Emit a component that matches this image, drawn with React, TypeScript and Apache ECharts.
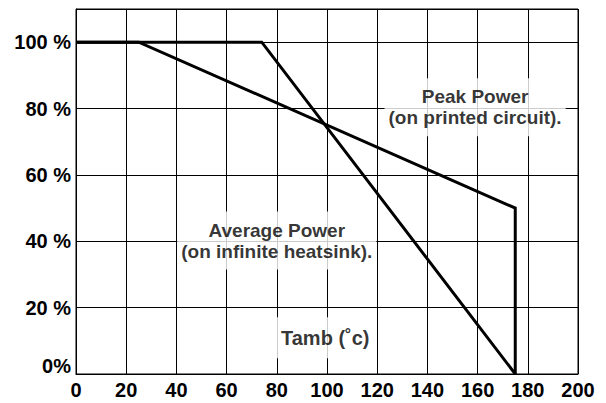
import React, { useEffect, useRef } from "react";
import * as echarts from "echarts";

// Tamb (°C) vs power derating (%)
const xTicks = [0, 20, 40, 60, 80, 100, 120, 140, 160, 180, 200];
const yTicks = [0, 20, 40, 60, 80, 100];
const peakPowerLine: [number, number][] = [
  [0, 100],
  [25, 100],
  [175, 50],
  [175, 0],
];
const averagePowerLine: [number, number][] = [
  [0, 100],
  [74, 100],
  [175, 0],
];
const notes: [number, number, string][] = [
  [159, 80.4, "Peak Power\n(on printed circuit)."],
  [80, 40.2, "Average Power\n(on infinite heatsink)."],
];
const axisTitle: [number, number, string] = [99.3, 10.9, "Tamb (˚c)"];

const FONT = "'Liberation Sans', Arial, Helvetica, sans-serif";

export default function App() {
  const ref = useRef<HTMLDivElement>(null);
  useEffect(() => {
    document.body.style.margin = "0";
    if (!ref.current) return;
    const chart = echarts.init(ref.current, undefined, { renderer: "svg" });
    chart.setOption({
      animation: false,
      backgroundColor: "#fff",
      grid: {
        left: 76,
        right: 28,
        top: 9,
        bottom: 29,
        show: true,
        borderColor: "#000",
        borderWidth: 1,
      },
      xAxis: {
        type: "value",
        min: xTicks[0],
        max: xTicks[xTicks.length - 1],
        interval: 20,
        axisLine: { show: true, lineStyle: { color: "#000", width: 1 } },
        axisTick: { show: false },
        splitLine: { show: true, lineStyle: { color: "#000", width: 1 } },
        axisLabel: {
          color: "#000",
          fontFamily: FONT,
          fontWeight: "bold",
          fontSize: 20,
          margin: 6,
        },
      },
      yAxis: {
        type: "value",
        min: 0,
        max: 110,
        interval: 20,
        axisLine: { show: true, lineStyle: { color: "#000", width: 1 } },
        axisTick: { show: false },
        splitLine: { show: true, lineStyle: { color: "#000", width: 1 } },
        axisLabel: {
          color: "#000",
          fontFamily: FONT,
          fontWeight: "bold",
          fontSize: 20,
          margin: 5,
          formatter: (v: number) =>
            v === 0 ? "{z|0%}" : yTicks.includes(v) ? `${v} %` : "",
          rich: {
            z: {
              fontFamily: FONT,
              fontWeight: "bold",
              fontSize: 20,
              color: "#000",
              padding: [0, 0, 16, 0],
            },
          },
        },
      },
      series: [
        {
          name: "Peak Power",
          type: "line",
          data: peakPowerLine,
          symbol: "none",
          lineStyle: { color: "#000", width: 3, join: "miter" },
          z: 3,
        },
        {
          name: "Average Power",
          type: "line",
          data: averagePowerLine,
          symbol: "none",
          lineStyle: { color: "#000", width: 3, join: "miter" },
          z: 3,
        },
        {
          name: "notes",
          type: "scatter",
          data: [
            ...notes.map((n) => ({ value: [n[0], n[1]], name: n[2] })),
            {
              value: [axisTitle[0], axisTitle[1]],
              name: axisTitle[2],
              label: { fontSize: 20, padding: [10, 6] },
            },
          ],
          symbolSize: 0,
          z: 5,
          label: {
            show: true,
            position: "inside",
            formatter: (p: any) => p.name,
            color: "#000",
            fontFamily: FONT,
            fontWeight: "bold",
            fontSize: 19,
            lineHeight: 21,
            align: "center",
            backgroundColor: "#fff",
            padding: [8, 4],
          },
        },
      ],
    });
    return () => chart.dispose();
  }, []);
  return <div ref={ref} style={{ width: 606, height: 403 }} />;
}
